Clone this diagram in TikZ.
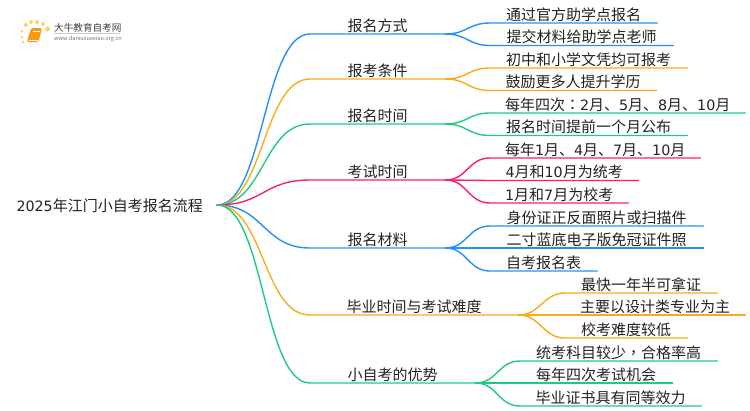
\documentclass[tikz,border=0pt]{standalone}
\usepackage{fontspec}
\setmainfont{Noto Sans CJK SC}
\newfontfamily\digitfont[Scale=0.95]{DejaVu Sans}
\newfontfamily\punctfont{Noto Sans CJK TC}
\newcommand{\dg}[1]{{\digitfont #1}}
\newcommand{\pct}[1]{{\punctfont #1}}
\usetikzlibrary{positioning}
\definecolor{mapblue}{HTML}{2390FA}
\definecolor{maporange}{HTML}{F8AC1C}
\definecolor{mapgreen}{HTML}{1FCB80}
\definecolor{mappink}{HTML}{FB1C74}
\definecolor{maptext}{HTML}{222222}
\definecolor{bookorange}{HTML}{F59A12}
\definecolor{dotyellow}{HTML}{FBD36B}
\begin{document}
\begin{tikzpicture}[x=1pt,y=-1pt,
  item/.style={anchor=south west,inner xsep=0pt,inner ysep=2.5pt,text height=11pt,text depth=0pt,text=maptext,font=\fontsize{15}{18}\selectfont},
  branch/.style={line width=1.4pt,line cap=round},
  dot/.style={circle,fill=dotyellow,inner sep=0pt}]
\useasboundingbox (0,0) rectangle (750,410);

% logo
\node (dot1) [dot,minimum size=3pt] at (23,42) {};
\node (dot2) [dot,minimum size=3pt] at (22,37) {};
\node (dot3) [dot,minimum size=3pt] at (22,31) {};
\node (dot4) [dot,minimum size=4pt] at (26,25) {};
\node (dot5) [dot,minimum size=4pt] at (31,22) {};
\node (dot6) [dot,minimum size=4pt] at (37,22) {};
\node (dot7) [dot,minimum size=4pt] at (43,24) {};
\node (dot8) [dot,minimum size=5pt] at (47.5,29) {};
\fill[bookorange,rounded corners=1.5pt] (31,28) -- (42,28) -- (38.5,42) -- (27,42) -- cycle;
\draw[white,line width=.6pt] (33,31) -- (39.5,31);
\draw[white,line width=.6pt] (28.5,40) -- (37.5,40);
\node (logoname) [anchor=west,inner sep=0pt,text=black!75,font=\fontsize{9.6}{11}\selectfont] at (54,27.5) {大牛教育自考网};
\node (logourl) [anchor=west,inner sep=0pt,text=black!55,font=\fontsize{5.6}{7}\selectfont] at (54,38.5) {www.daniuxuexiao.org.cn};
\draw[black!20,line width=.5pt] (logoname.south west)++(0,1) -- ++(66,0);

% root
\node (root) [anchor=east,inner sep=0pt,text=maptext,font=\fontsize{15}{18}\selectfont] at (203,206) {\dg{2025}年江门小自考报名流程};
\coordinate (hub) at (217,205);

% first level
\node (way) [item,minimum width=135pt] at (310,34) {报名方式};
\node (cond) [item,minimum width=135pt] at (310,79) {报考条件};
\node (when) [item,minimum width=135pt] at (310,124) {报名时间};
\node (exam) [item,minimum width=135pt] at (310,180) {考试时间};
\node (docs) [item,minimum width=135pt] at (310,248) {报名材料};
\node (grad) [item,minimum width=208pt] at (310,315) {毕业时间与考试难度};
\node (good) [item,minimum width=165pt] at (310,383) {小自考的优势};

% second level
\node (way1) [item,minimum width=167pt] at (490,23) {通过官方助学点报名};
\node (way2) [item,minimum width=183pt] at (490,45.5) {提交材料给助学点老师};
\node (cond1) [item,minimum width=197pt] at (490,68) {初中和小学文凭均可报考};
\node (cond2) [item,minimum width=166pt] at (490,90.5) {鼓励更多人提升学历};
\node (when1) [item,minimum width=255pt] at (490,113) {每年四次\pct{：}\dg{2}月、\dg{5}月、\dg{8}月、\dg{10}月};
\node (when2) [item,minimum width=197pt] at (490,135.5) {报名时间提前一个月公布};
\node (exam1) [item,minimum width=210pt] at (490,158) {每年\dg{1}月、\dg{4}月、\dg{7}月、\dg{10}月};
\node (exam2) [item,minimum width=148pt] at (490,180.5) {\dg{4}月和\dg{10}月为统考};
\node (exam3) [item,minimum width=138pt] at (490,203) {\dg{1}月和\dg{7}月为校考};
\node (docs1) [item,minimum width=213pt] at (490,226) {身份证正反面照片或扫描件};
\node (docs2) [item,minimum width=213pt] at (490,248) {二寸蓝底电子版免冠证件照};
\node (docs3) [item,minimum width=107pt] at (490,271) {自考报名表};
\node (grad1) [item,minimum width=152pt] at (565,293) {最快一年半可拿证};
\node (grad2) [item,minimum width=180pt] at (565,315) {主要以设计类专业为主};
\node (grad3) [item,minimum width=122pt] at (565,338) {校考难度较低};
\node (good1) [item,minimum width=197pt] at (520,361) {统考科目较少\pct{，}合格率高};
\node (good2) [item,minimum width=152pt] at (520,383) {每年四次考试机会};
\node (good3) [item,minimum width=181pt] at (520,406) {毕业证书具有同等效力};

% root to first level
\draw[branch,mapblue](hub) .. controls +(47,0) and +(-47,0) .. (way.south west) -- (way.south east);
\draw[branch,maporange](hub) .. controls +(47,0) and +(-47,0) .. (cond.south west) -- (cond.south east);
\draw[branch,mapgreen](hub) .. controls +(47,0) and +(-47,0) .. (when.south west) -- (when.south east);
\draw[branch,mappink](hub) .. controls +(47,0) and +(-47,0) .. (exam.south west) -- (exam.south east);
\draw[branch,mapblue](hub) .. controls +(47,0) and +(-47,0) .. (docs.south west) -- (docs.south east);
\draw[branch,maporange](hub) .. controls +(47,0) and +(-47,0) .. (grad.south west) -- (grad.south east);
\draw[branch,mapgreen](hub) .. controls +(47,0) and +(-47,0) .. (good.south west) -- (good.south east);

% first to second level
\draw[branch,mapblue](way.south east) .. controls +(22,0) and +(-22,0) .. (way1.south west) -- (way1.south east);
\draw[branch,mapblue](way.south east) .. controls +(22,0) and +(-22,0) .. (way2.south west) -- (way2.south east);
\draw[branch,maporange](cond.south east) .. controls +(22,0) and +(-22,0) .. (cond1.south west) -- (cond1.south east);
\draw[branch,maporange](cond.south east) .. controls +(22,0) and +(-22,0) .. (cond2.south west) -- (cond2.south east);
\draw[branch,mapgreen](when.south east) .. controls +(22,0) and +(-22,0) .. (when1.south west) -- (when1.south east);
\draw[branch,mapgreen](when.south east) .. controls +(22,0) and +(-22,0) .. (when2.south west) -- (when2.south east);
\draw[branch,mappink](exam.south east) .. controls +(22,0) and +(-22,0) .. (exam1.south west) -- (exam1.south east);
\draw[branch,mappink](exam.south east) .. controls +(22,0) and +(-22,0) .. (exam2.south west) -- (exam2.south east);
\draw[branch,mappink](exam.south east) .. controls +(22,0) and +(-22,0) .. (exam3.south west) -- (exam3.south east);
\draw[branch,mapblue](docs.south east) .. controls +(22,0) and +(-22,0) .. (docs1.south west) -- (docs1.south east);
\draw[branch,mapblue](docs.south east) .. controls +(22,0) and +(-22,0) .. (docs2.south west) -- (docs2.south east);
\draw[branch,mapblue](docs.south east) .. controls +(22,0) and +(-22,0) .. (docs3.south west) -- (docs3.south east);
\draw[branch,maporange](grad.south east) .. controls +(22,0) and +(-22,0) .. (grad1.south west) -- (grad1.south east);
\draw[branch,maporange](grad.south east) .. controls +(22,0) and +(-22,0) .. (grad2.south west) -- (grad2.south east);
\draw[branch,maporange](grad.south east) .. controls +(22,0) and +(-22,0) .. (grad3.south west) -- (grad3.south east);
\draw[branch,mapgreen](good.south east) .. controls +(22,0) and +(-22,0) .. (good1.south west) -- (good1.south east);
\draw[branch,mapgreen](good.south east) .. controls +(22,0) and +(-22,0) .. (good2.south west) -- (good2.south east);
\draw[branch,mapgreen](good.south east) .. controls +(22,0) and +(-22,0) .. (good3.south west) -- (good3.south east);
\end{tikzpicture}
\end{document}
